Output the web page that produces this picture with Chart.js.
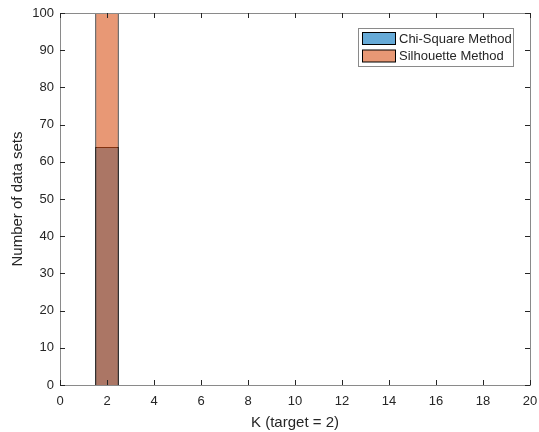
<!DOCTYPE html>
<html>
<head>
<meta charset="utf-8">
<script src="https://cdn.jsdelivr.net/npm/chart.js@4/dist/chart.umd.min.js"></script>
<style>
html,body{margin:0;padding:0;background:#fff;}
#wrap{width:539px;height:432px;position:relative;}
</style>
</head>
<body>
<div id="wrap"><canvas id="c" width="539" height="432"></canvas></div>
<script>
// Data
const binCenters = [2];
const chiSquareCounts = [64];
const silhouetteCounts = [100];
const seriesLabels = ['Chi-Square Method', 'Silhouette Method'];
const xLabel = 'K (target = 2)';
const yLabel = 'Number of data sets';
const xRange = [0, 20];
const yRange = [0, 100];
const xStep = 2;
const yStep = 10;

const FONT = '"Liberation Sans", Arial, Helvetica, sans-serif';
const AX = '#262626';

function pts(ys){ return binCenters.map((x,i)=>({x:x, y:ys[i]})); }

const boxPlugin = {
  id: 'matlabBox',
  afterDraw(chart){
    const ctx = chart.ctx, a = chart.chartArea;
    const xs = chart.scales.x, ys = chart.scales.y;
    ctx.save();
    ctx.strokeStyle = '#8a8a8a';
    ctx.lineWidth = 1;
    ctx.strokeRect(Math.round(a.left)+0.5, Math.round(a.top)+0.5, Math.round(a.right-a.left), Math.round(a.bottom-a.top));
    ctx.strokeStyle = AX;
    const L = 5;
    ctx.beginPath();
    xs.ticks.forEach(t=>{
      const px = Math.round(xs.getPixelForValue(t.value))+0.5;
      ctx.moveTo(px, a.bottom); ctx.lineTo(px, a.bottom-L);
      ctx.moveTo(px, a.top); ctx.lineTo(px, a.top+L);
    });
    ys.ticks.forEach(t=>{
      const py = Math.round(ys.getPixelForValue(t.value))+0.5;
      ctx.moveTo(a.left, py); ctx.lineTo(a.left+L, py);
      ctx.moveTo(a.right, py); ctx.lineTo(a.right-L, py);
    });
    ctx.stroke();
    // legend
    const ds = chart.data.datasets;
    const bx = 358.5, by = 28.5, bw = 155, bh = 38;
    ctx.fillStyle = '#fff';
    ctx.fillRect(bx, by, bw, bh);
    ctx.strokeStyle = '#8a8a8a';
    ctx.strokeRect(bx, by, bw, bh);
    ctx.font = '13px ' + FONT;
    ctx.textBaseline = 'middle';
    ctx.textAlign = 'left';
    seriesLabels.forEach((lab, i)=>{
      const d = ds.find(q=>q.label===lab);
      const sy = 32.5 + i*17.5;
      ctx.fillStyle = d.backgroundColor;
      ctx.fillRect(362.5, sy, 33, 12);
      ctx.strokeStyle = '#000';
      ctx.strokeRect(362.5, sy, 33, 12);
      ctx.fillStyle = AX;
      ctx.fillText(lab, 399, sy + 6.5);
    });
    ctx.restore();
  }
};

new Chart(document.getElementById('c'), {
  type: 'bar',
  data: {
    datasets: [
      { label: seriesLabels[0], data: pts(chiSquareCounts), order: 1,
        backgroundColor: 'rgba(0,114,189,0.6)', borderColor: '#000', borderWidth: 1,
        categoryPercentage: 0.5, barPercentage: 1.0, grouped: false },
      { label: seriesLabels[1], data: pts(silhouetteCounts), order: 0,
        backgroundColor: 'rgba(217,83,25,0.6)', borderColor: '#000', borderWidth: 1,
        categoryPercentage: 0.5, barPercentage: 1.0, grouped: false }
    ]
  },
  options: {
    responsive: false,
    animation: false,
    devicePixelRatio: 1,
    layout: { padding: { left: 0, right: 9, top: 13, bottom: 0 } },
    plugins: { legend: { display: false }, tooltip: { enabled: false } },
    scales: {
      x: {
        type: 'linear', min: xRange[0], max: xRange[1], offset: false,
        ticks: { stepSize: xStep, color: AX, font: { size: 13, family: FONT }, padding: 9, maxRotation: 0 },
        grid: { display: false, drawTicks: false, offset: false },
        border: { display: false },
        title: { display: true, text: xLabel, color: AX, font: { size: 15, family: FONT }, padding: { top: 1, bottom: 0 } },
        afterFit(s){ s.height = 47; s.paddingLeft = 0; s.paddingRight = 0; }
      },
      y: {
        min: yRange[0], max: yRange[1],
        ticks: { stepSize: yStep, color: AX, font: { size: 13, family: FONT }, padding: 6 },
        grid: { display: false, drawTicks: false },
        border: { display: false },
        title: { display: true, text: yLabel, color: AX, font: { size: 15, family: FONT }, padding: { top: 9, bottom: 0 } },
        afterFit(s){ s.width = 60; s.paddingTop = 0; s.paddingBottom = 0; }
      }
    }
  },
  plugins: [boxPlugin]
});
</script>
</body>
</html>
